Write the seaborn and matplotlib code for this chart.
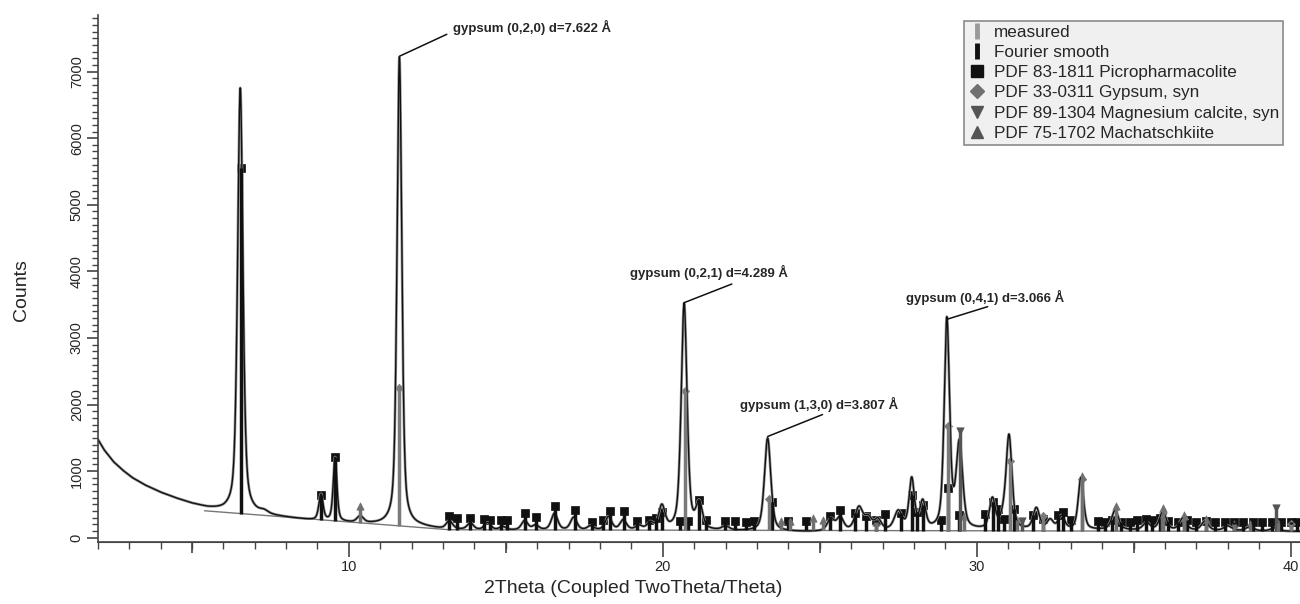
import numpy as np
import pandas as pd
import seaborn as sns
import matplotlib.pyplot as plt
from matplotlib.lines import Line2D
from matplotlib.ticker import MultipleLocator

# background of the measured trace (2Theta, counts)
bg_x = [2.0, 2.2, 2.5, 2.8, 3.1, 3.5, 4.0, 4.5, 5.0, 5.5, 6.0, 7.0, 8.0, 9.0, 10.0, 11.0,
        12.3, 13.0, 14.0, 20.0, 24.6, 30.0, 34.0, 40.3]
bg_y = [1480, 1320, 1140, 1010, 900, 790, 680, 590, 510, 445, 400, 350, 300, 250, 220, 190,
        160, 125, 110, 105, 85, 105, 115, 95]

# peaks of the Fourier smooth: position, height above background, half width
peak_pos = [6.54, 7.3, 9.11, 9.56, 10.36, 11.61,
            13.2, 13.87, 14.42, 14.9, 15.6, 15.95, 16.55, 17.16, 17.7, 18.27, 18.74, 19.24, 19.6, 19.97,
            20.68, 21.16, 22.0, 23.34, 25.35, 25.65, 26.25, 26.55, 26.85, 27.5, 27.93, 28.28,
            29.05, 29.45, 30.5, 30.84, 31.03, 31.9, 32.34, 32.7, 33.32, 34.41, 35.41, 35.93,
            36.57, 37.27, 38.0, 38.7, 39.5]
peak_height = [6380, 40, 390, 960, 100, 7040,
               120, 100, 110, 50, 140, 70, 250, 190, 60, 200, 150, 60, 100, 350,
               3400, 380, 60, 1400, 180, 200, 350, 180, 160, 280, 760, 410,
               3150, 1270, 450, 130, 1400, 320, 140, 200, 780, 290, 110, 270,
               180, 140, 70, 60, 50]
peak_hw = [0.10, 0.15, 0.08, 0.07, 0.12, 0.09,
           0.12, 0.12, 0.12, 0.12, 0.12, 0.12, 0.12, 0.12, 0.12, 0.12, 0.12, 0.12, 0.12, 0.12,
           0.11, 0.12, 0.14, 0.12, 0.13, 0.13, 0.15, 0.13, 0.13, 0.15, 0.10, 0.11,
           0.10, 0.12, 0.11, 0.11, 0.11, 0.12, 0.12, 0.12, 0.10, 0.13, 0.13, 0.13,
           0.13, 0.13, 0.15, 0.15, 0.15]

# reference patterns: stick position and top of the stick (counts)
picro_x = [6.55, 9.11, 9.56, 13.2, 13.45, 13.87, 14.3, 14.5, 14.85, 15.05, 15.6, 15.95, 16.58, 17.2,
           17.75, 18.1, 18.32, 18.77, 19.17, 19.55, 19.78, 19.99, 20.55, 20.8, 21.16, 21.38, 21.99,
           22.3, 22.64, 22.9, 23.48, 23.99, 24.56, 25.33, 25.66, 26.12, 26.46, 26.8, 27.08, 27.6,
           27.93, 28.09, 28.3, 28.85, 29.09, 29.44, 30.27, 30.53, 30.67, 30.87, 31.19, 31.8, 32.1,
           32.58, 32.75, 33.0, 33.87, 34.1, 34.3, 34.6, 34.9, 35.1, 35.4, 35.6, 35.85, 36.1, 36.4,
           36.7, 37.0, 37.3, 37.6, 37.9, 38.2, 38.5, 38.8, 39.1, 39.4, 39.7, 40.0, 40.2]
picro_y = [5550, 645, 1215, 320, 290, 290, 280, 270, 260, 270, 370, 310, 480, 420,
           230, 270, 400, 400, 250, 270, 300, 390, 245, 245, 570, 270, 245,
           250, 240, 245, 530, 245, 245, 320, 420, 370, 320, 270, 360, 370,
           640, 390, 495, 270, 750, 345, 350, 530, 435, 285, 435, 345, 280,
           345, 380, 260, 245, 240, 260, 230, 240, 260, 280, 260, 300, 250, 240,
           260, 240, 250, 230, 230, 240, 230, 235, 240, 230, 235, 240, 230]

gyps_x = [11.61, 20.72, 23.38, 29.1, 31.06, 32.1, 33.34, 35.9, 36.6, 40.0]
gyps_y = [2250, 2200, 580, 1680, 1150, 330, 880, 300, 280, 200]

mgcal_x = [29.47, 31.45, 35.95, 39.55]
mgcal_y = [1600, 250, 320, 450]

mach_x = [10.36, 23.78, 24.05, 24.8, 25.1, 26.8, 29.6, 31.3, 33.36, 34.45, 35.95, 36.6, 37.3, 38.2, 38.7, 39.6]
mach_y = [470, 245, 245, 300, 260, 230, 320, 270, 930, 470, 450, 340, 280, 200, 210, 220]

# straight background line below the sticks
base_x = [5.4, 13.2, 40.3]
base_y = [405, 120, 95]

# peak labels: text, peak top, end of leader line, text anchor
ann_text = ['gypsum (0,2,0) d=7.622 Å', 'gypsum (0,2,1) d=4.289 Å',
            'gypsum (1,3,0) d=3.807 Å', 'gypsum (0,4,1) d=3.066 Å']
ann_peak = [(11.61, 7230), (20.68, 3530), (23.34, 1520), (29.05, 3280)]
ann_end = [(13.12, 7560), (22.2, 3810), (25.09, 1850), (30.35, 3470)]
ann_pos = [(13.32, 7660), (18.96, 3985), (22.46, 2005), (27.75, 3610)]

# build the trace from the read peaks (half Lorentzian, half Gaussian)
theta = np.linspace(2.0, 40.3, 6000)
counts = np.interp(theta, bg_x, bg_y).astype(float)
for p, h, w in zip(peak_pos, peak_height, peak_hw):
    lor = w ** 2 / ((theta - p) ** 2 + w ** 2)
    gau = np.exp(-np.log(2) * ((theta - p) / w) ** 2)
    counts += h * (0.5 * lor + 0.5 * gau)
trace = pd.DataFrame({'theta': theta, 'counts': counts})

sns.set_style('ticks')
plt.rcParams['font.family'] = ['Liberation Sans', 'DejaVu Sans']

fig = plt.figure(figsize=(13, 6.04), dpi=100)
ax = fig.add_axes([0.0752, 0.1031, 0.9248, 0.8721])

# measured (grey) under the Fourier smooth (black)
sns.lineplot(data=trace, x='theta', y='counts', color='#9a9a9a', lw=2.0, sort=False,
             estimator=None, ax=ax)
ax.plot(base_x, base_y, color='#777777', lw=1.0)
sns.lineplot(data=trace, x='theta', y='counts', color='#111111', lw=1.0, sort=False,
             estimator=None, ax=ax)

# reference sticks and markers
refs = [
    (picro_x, picro_y, '#111111', 's', 30),
    (gyps_x, gyps_y, '#7a7a7a', 'D', 18),
    (mgcal_x, mgcal_y, '#555555', 'v', 28),
    (mach_x, mach_y, '#707070', '^', 28),
]
for xs, ys, col, mk, sz in refs:
    xs = np.array(xs)
    ax.vlines(xs, np.interp(xs, base_x, base_y), ys, color=col, lw=2.5)
    sns.scatterplot(x=xs, y=ys, marker=mk, s=sz, color=col, edgecolor=col, linewidth=0.5, ax=ax)

for txt, pk, end, pos in zip(ann_text, ann_peak, ann_end, ann_pos):
    ax.plot([pk[0], end[0]], [pk[1], end[1]], color='#111111', lw=1.1)
    ax.text(pos[0], pos[1], txt, fontsize=9.5, fontweight='bold', ha='left', va='center')

ax.set_xlim(2.0, 40.3)
ax.set_ylim(-60, 7850)
sns.despine(ax=ax)
for sp in ['left', 'bottom']:
    ax.spines[sp].set_color('#444444')
    ax.spines[sp].set_linewidth(1.2)

ax.set_xticks([10, 20, 30, 40])
ax.xaxis.set_minor_locator(MultipleLocator(1))
ax.set_yticks(np.arange(0, 8000, 1000))
ax.yaxis.set_minor_locator(MultipleLocator(100))
ax.tick_params(axis='x', which='major', length=11, width=1.2, labelsize=10.5, pad=2, color='#444444')
ax.tick_params(axis='x', which='minor', length=5, width=1.0, color='#444444')
ax.tick_params(axis='y', which='major', length=8, width=1.2, labelsize=10.5, pad=2,
               labelrotation=90, color='#444444')
ax.tick_params(axis='y', which='minor', length=4.5, width=1.0, color='#444444')
for lab in ax.get_yticklabels():
    lab.set_va('center')

sec = ax.secondary_xaxis('bottom')
sec.set_xticks([5, 15, 25, 35])
sec.tick_params(length=8, width=1.2, labelbottom=False, color='#444444')
sec.spines['bottom'].set_color('#444444')

ax.set_xlabel('2Theta (Coupled TwoTheta/Theta)', fontsize=14)
ax.set_ylabel('Counts', fontsize=14)
ax.xaxis.set_label_coords(0.445, -0.073)
ax.yaxis.set_label_coords(-0.0563, 0.478)

handles = [
    Line2D([], [], color='#9a9a9a', marker='|', markersize=11, markeredgewidth=3.5, ls='None'),
    Line2D([], [], color='#111111', marker='|', markersize=11, markeredgewidth=3.5, ls='None'),
    Line2D([], [], color='#111111', marker='s', markersize=9, ls='None'),
    Line2D([], [], color='#707070', marker='D', markersize=7, ls='None'),
    Line2D([], [], color='#555555', marker='v', markersize=9, ls='None'),
    Line2D([], [], color='#555555', marker='^', markersize=9, ls='None'),
]
labels = ['measured', 'Fourier smooth', 'PDF 83-1811 Picropharmacolite', 'PDF 33-0311 Gypsum, syn',
          'PDF 89-1304 Magnesium calcite, syn', 'PDF 75-1702 Machatschkiite']
leg = ax.legend(handles, labels, loc='upper right', bbox_to_anchor=(0.986, 0.989),
                borderaxespad=0, fontsize=12.3, frameon=True, fancybox=False,
                facecolor='#f0f0f0', edgecolor='#8a8a8a', framealpha=1,
                handlelength=1.0, handletextpad=0.5, labelspacing=0.3, borderpad=0.25)
leg.get_frame().set_linewidth(1.2)

fig.savefig('out.png', dpi=100)
